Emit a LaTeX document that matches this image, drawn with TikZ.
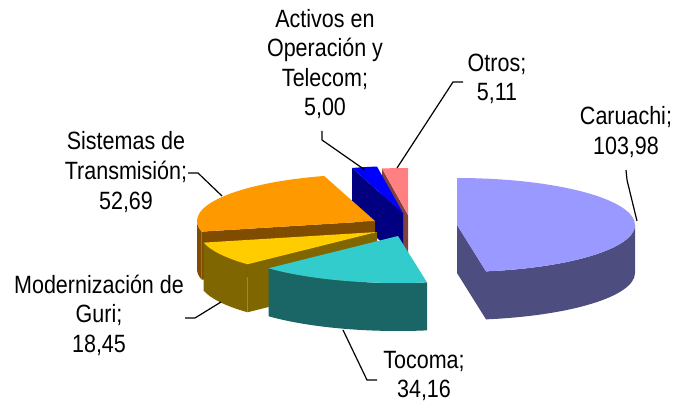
\documentclass[tikz,border=0pt]{standalone}
\usepackage{fontspec}
\setmainfont{Liberation Sans}
\usepackage{xcolor}
\usetikzlibrary{calc}

\definecolor{carTop}{HTML}{9999FF}
\definecolor{carSide}{HTML}{4D4D80}
\definecolor{tocTop}{HTML}{33CCCC}
\definecolor{tocSide}{HTML}{1A6666}
\definecolor{guriTop}{HTML}{FFCC00}
\definecolor{guriSide}{HTML}{806600}
\definecolor{sisTop}{HTML}{FF9900}
\definecolor{sisSide}{HTML}{804C00}
\definecolor{actTop}{HTML}{0000FF}
\definecolor{actSide}{HTML}{000080}
\definecolor{otrTop}{HTML}{FF8080}
\definecolor{otrSide}{HTML}{804040}

% slice pieces: apex, start angle, end angle, colour
\newcommand{\pietop}[4]{\fill[#4] (#1) -- ++(#2:178pt and 47pt)
	arc[start angle=#2, end angle=#3, x radius=178pt, y radius=47pt] -- cycle;}
\newcommand{\pierim}[4]{\fill[#4] (#1) ++(#2:178pt and 47pt)
	arc[start angle=#2, end angle=#3, x radius=178pt, y radius=47pt] -- ++(0,-48pt)
	arc[start angle=#3, end angle=#2, x radius=178pt, y radius=47pt] -- cycle;}
\newcommand{\piecut}[3]{\fill[#3] (#1) -- ++(#2:178pt and 47pt) -- ++(0,-48pt)
	-- ($(#1)+(0,-48pt)$) -- cycle;}

\begin{document}
\begin{tikzpicture}[x=1pt,y=1pt,
	lbl/.style={align=center,inner sep=0pt,xscale=.86,font=\fontsize{25}{29.6}\selectfont},
	lead/.style={line width=1.2pt}]
	
	\useasboundingbox (0,0) rectangle (673,408);
	
	\coordinate (C1) at (457,183); % Caruachi
	\coordinate (C2) at (398,172); % Tocoma
	\coordinate (C3) at (377,176); % Guri
	\coordinate (C4) at (375,187); % Sistemas
	\coordinate (C5) at (403,195); % Activos
	\coordinate (C6) at (408,193); % Otros
	
	% back to front
	\piecut{C6}{98.4}{otrSide}
	\pietop{C6}{90}{98.4}{otrTop}
	
	\piecut{C5}{106.6}{actSide}
	\pietop{C5}{98.4}{106.6}{actTop}
	
	\pierim{C4}{180}{193.06}{sisSide}
	\piecut{C4}{193.06}{sisSide}
	\pietop{C4}{106.6}{193.06}{sisTop}
	
	\pierim{C3}{-166.94}{-136.67}{guriSide}
	\piecut{C3}{-136.67}{guriSide}
	\pietop{C3}{-166.94}{-136.67}{guriTop}
	
	\pierim{C2}{-136.67}{-80.62}{tocSide}
	\pietop{C2}{-136.67}{-80.62}{tocTop}
	
	\pierim{C1}{-80.62}{0}{carSide}
	\piecut{C1}{-80.62}{carSide}
	\pietop{C1}{-80.62}{90}{carTop}
	
	% leader lines
	\coordinate (a1) at (322,277); \coordinate (a2) at (322,268); \coordinate (a3) at (365,238);
	\coordinate (o1) at (463,326); \coordinate (o2) at (453,326); \coordinate (o3) at (397,240);
	\coordinate (r1) at (626,238); \coordinate (r2) at (627,228); \coordinate (r3) at (637,187);
	\coordinate (s1) at (188,235); \coordinate (s2) at (198,235); \coordinate (s3) at (222,212);
	\coordinate (g1) at (185,90);  \coordinate (g2) at (195,90);  \coordinate (g3) at (221,106);
	\coordinate (t1) at (343,78);  \coordinate (t2) at (367,28);  \coordinate (t3) at (377,28);
	
	\draw[lead] (a1)--(a2)--(a3) (o1)--(o2)--(o3) (r1)--(r2)--(r3)
		(s1)--(s2)--(s3) (g1)--(g2)--(g3) (t3)--(t2)--(t1);
	
	\path
		(325,344) node[lbl] (lact) {Activos en\\Operación y\\Telecom;\\5,00}
		(497,329) node[lbl] (lotr) {Otros;\\5,11}
		(626,276) node[lbl] (lcar) {Caruachi;\\103,98}
		(126,236) node[lbl] (lsis) {Sistemas de\\Transmisión;\\52,69}
		(99,93)   node[lbl] (lgur) {Modernización de\\Guri;\\18,45}
		(424,32)  node[lbl] (ltoc) {Tocoma;\\34,16};
	
\end{tikzpicture}
\end{document}
